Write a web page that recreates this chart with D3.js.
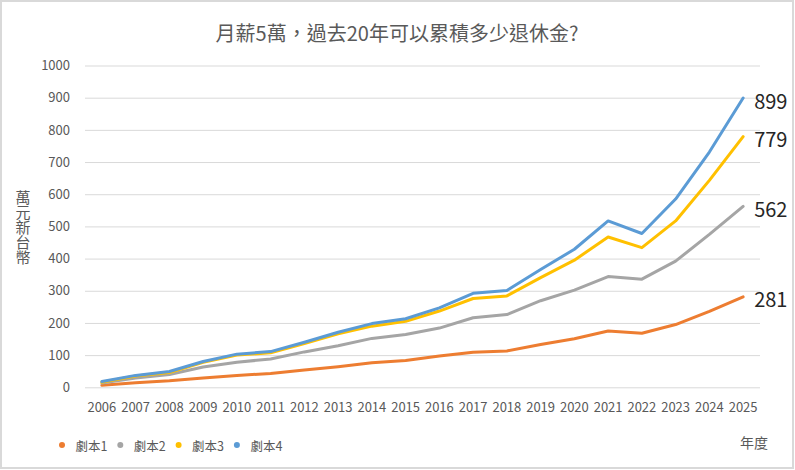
<!DOCTYPE html>
<html>
<head>
<meta charset="utf-8">
<script src="https://cdn.jsdelivr.net/npm/d3@7"></script>
<style>
  html, body { margin: 0; padding: 0; background: #fff; }
  svg { display: block; font-family: "Noto Sans CJK TC", "Noto Sans", sans-serif; }
</style>
</head>
<body>
<svg id="chart" width="795" height="470"></svg>
<script>
const years = ["2006","2007","2008","2009","2010","2011","2012","2013","2014","2015",
               "2016","2017","2018","2019","2020","2021","2022","2023","2024","2025"];
const seriesNames = ["劇本1", "劇本2", "劇本3", "劇本4"];
const scenario1 = [6, 14, 20, 29, 37, 43, 54, 64, 76, 83, 97, 109, 113, 133, 151, 175, 168, 195, 236, 281];
const scenario2 = [13, 29, 40, 63, 78, 88, 110, 129, 152, 164, 184, 216, 226, 269, 302, 344, 336, 392, 475, 562];
const scenario3 = [16, 35, 46, 78, 100, 107, 136, 166, 190, 205, 237, 276, 284, 341, 395, 467, 434, 517, 643, 779];
const scenario4 = [18, 37, 49, 80, 103, 111, 140, 171, 198, 213, 247, 292, 301, 366, 429, 517, 478, 585, 731, 899];
const yTicks = [0, 100, 200, 300, 400, 500, 600, 700, 800, 900, 1000];
const endLabels = ["281", "562", "779", "899"];
const colors = ["#ED7D31", "#A5A5A5", "#FFC000", "#5B9BD5"];
const title = "月薪5萬，過去20年可以累積多少退休金?";
const yTitle = "萬元新台幣";
const xTitle = "年度";

const allSeries = [scenario1, scenario2, scenario3, scenario4];

const svg = d3.select("#chart");

// border
svg.append("rect").attr("x", 1).attr("y", 1).attr("width", 792).attr("height", 467)
  .attr("fill", "#fff").attr("stroke", "#d9d9d9").attr("stroke-width", 2);

const x = d3.scaleBand().domain(years).range([85, 760]);
const xc = d => x(d) + x.bandwidth() / 2;
const y = d3.scaleLinear().domain([0, 1000]).range([387.3, 65.5]);

// title
svg.append("text").attr("x", 397).attr("y", 32).attr("text-anchor", "middle")
  .attr("dominant-baseline", "central").attr("font-size", 20).attr("fill", "#595959")
  .text(title);

// gridlines
const yAxis = d3.axisLeft(y).tickValues(yTicks).tickSize(-(760 - 85)).tickPadding(15).tickFormat(d3.format("d"));
const gy = svg.append("g").attr("transform", "translate(85,0)").call(yAxis);
gy.select(".domain").remove();
gy.selectAll(".tick line").attr("stroke", "#d9d9d9").attr("stroke-width", 1);
gy.selectAll(".tick text").attr("font-size", 13).attr("fill", "#595959")
  .attr("font-family", "'Noto Sans CJK TC', sans-serif");

// x axis
const xAxis = d3.axisBottom(x).tickSize(0).tickPadding(0);
const gx = svg.append("g").attr("transform", "translate(0,407)").call(xAxis);
gx.select(".domain").remove();
gx.selectAll(".tick text").attr("font-size", 13).attr("fill", "#595959")
  .attr("dy", "0.35em").attr("y", 0)
  .attr("font-family", "'Noto Sans CJK TC', sans-serif");

// y title (vertical text)
svg.append("text").attr("x", 23).attr("y", 189.5)
  .style("writing-mode", "vertical-rl").style("text-orientation", "upright")
  .attr("font-size", 15).attr("fill", "#595959")
  .text(yTitle);

// lines
const line = d3.line().x((d, i) => xc(years[i])).y(d => y(d));
allSeries.forEach((s, k) => {
  svg.append("path").datum(s).attr("d", line).attr("fill", "none")
    .attr("stroke", colors[k]).attr("stroke-width", 3).attr("stroke-linejoin", "round")
    .attr("stroke-linecap", "round");
});

// end labels
allSeries.forEach((s, k) => {
  const last = s[s.length - 1];
  svg.append("text").attr("x", xc(years[years.length - 1]) + 11).attr("y", y(last) + 2)
    .attr("dominant-baseline", "central").attr("font-size", 20).attr("fill", "#262626")
    .text(endLabels[k]);
});

// legend
seriesNames.forEach((n, k) => {
  const gx0 = 62 + k * 58.3;
  svg.append("circle").attr("cx", gx0).attr("cy", 445).attr("r", 3).attr("fill", colors[k]);
  svg.append("text").attr("x", gx0 + 13.5).attr("y", 445).attr("dominant-baseline", "central")
    .attr("font-size", 12.5).attr("fill", "#595959").text(n);
});

// x title
svg.append("text").attr("x", 740).attr("y", 442).attr("dominant-baseline", "central")
  .attr("font-size", 14).attr("fill", "#595959").text(xTitle);
</script>
</body>
</html>
